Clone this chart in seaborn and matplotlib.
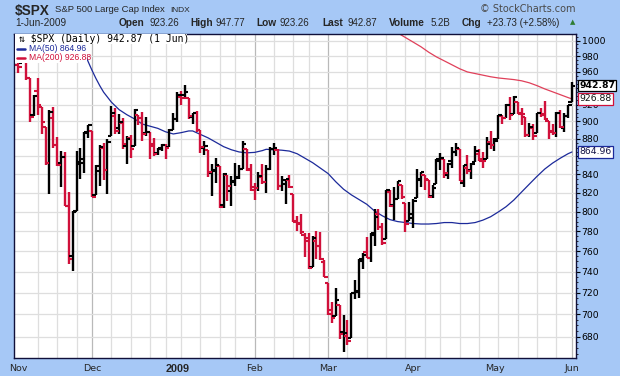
#! /usr/bin/env python3
# -*- coding: utf-8 -*-
import numpy as np
import pandas as pd
import matplotlib
matplotlib.use('Agg')
import matplotlib.pyplot as plt
import matplotlib.ticker as ticker
import matplotlib.transforms as mtransforms
from matplotlib.lines import Line2D
from matplotlib.patches import Rectangle
import seaborn as sns

#========================================================================================
# $SPX daily bars, 3-Nov-2008 .. 1-Jun-2009
opens = [968.67, 971.31, 1001.84, 952.40, 907.44, 936.75, 917.15, 893.39, 853.13, 904.36,
         873.23, 852.34, 859.03, 805.87, 755.84, 801.20, 853.40, 852.90, 886.89, 888.61,
         817.94, 843.60, 869.75, 844.43, 882.71, 906.48, 892.17, 898.35, 871.79, 881.07,
         871.53, 908.16, 904.00, 886.96, 887.20, 874.31, 863.87, 869.51, 872.37, 870.58,
         890.59, 902.99, 929.17, 931.17, 927.45, 905.73, 909.91, 890.40, 869.79, 867.28,
         841.99, 844.45, 849.64, 806.77, 839.74, 822.16, 832.50, 837.30, 845.73, 868.89,
         845.69, 823.09, 825.69, 837.77, 831.75, 846.09, 868.24, 866.87, 827.41, 829.91,
         833.95, 818.61, 791.06, 787.91, 775.87, 773.25, 744.69, 770.64, 765.76, 749.93,
         729.57, 704.44, 698.60, 708.27, 684.04, 680.76, 679.28, 719.59, 720.89, 751.97,
         758.84, 753.88, 776.01, 797.92, 784.58, 772.59, 820.60, 806.81, 814.06, 828.68,
         809.07, 790.88, 793.59, 814.53, 835.13, 839.75, 834.12, 816.76, 829.29, 855.33,
         856.88, 839.44, 854.54, 865.18, 868.27, 831.25, 847.26, 844.62, 853.91, 862.82,
         854.48, 856.85, 876.59, 872.74, 879.21, 906.10, 903.95, 919.58, 909.03, 922.99,
         910.52, 905.40, 884.24, 892.76, 886.07, 909.67, 908.62, 900.42, 888.68, 887.00,
         909.95, 892.96, 907.02, 923.26]
highs = [975.15, 1007.51, 1001.84, 952.40, 931.46, 951.95, 917.15, 893.39, 913.01, 916.88,
         882.29, 865.90, 864.57, 820.52, 801.20, 865.60, 868.94, 887.68, 896.25, 888.61,
         850.54, 873.12, 875.60, 879.42, 918.57, 916.26, 908.27, 904.63, 883.24, 884.63,
         914.66, 908.16, 911.02, 905.47, 887.37, 880.44, 869.79, 873.74, 873.70, 891.12,
         910.32, 934.73, 936.63, 943.85, 927.45, 910.00, 911.93, 890.40, 877.02, 867.28,
         851.59, 858.13, 849.64, 841.72, 839.74, 838.61, 852.53, 850.45, 877.86, 868.89,
         851.66, 830.78, 842.60, 851.85, 850.55, 870.75, 875.01, 868.05, 838.22, 835.48,
         839.43, 818.61, 796.17, 797.58, 778.69, 777.85, 775.49, 780.12, 779.42, 751.27,
         729.57, 711.67, 724.12, 708.27, 699.09, 695.27, 719.60, 731.92, 752.63, 758.29,
         774.53, 778.12, 803.04, 803.24, 788.91, 823.37, 823.65, 826.78, 832.98, 828.68,
         809.07, 810.48, 813.62, 845.61, 842.50, 839.75, 834.12, 828.42, 856.91, 864.31,
         856.88, 852.93, 870.35, 875.63, 868.27, 850.09, 861.78, 852.87, 871.80, 868.83,
         864.48, 882.06, 888.70, 880.48, 907.85, 907.70, 920.28, 929.58, 930.17, 922.99,
         915.57, 905.40, 898.36, 896.97, 910.00, 916.39, 924.60, 900.42, 896.65, 911.76,
         913.84, 909.45, 920.02, 947.77]
lows = [958.57, 971.31, 949.86, 899.73, 906.90, 907.47, 884.90, 850.48, 818.69, 869.88,
        848.98, 826.84, 806.18, 747.78, 741.02, 801.20, 834.99, 841.37, 881.21, 815.69,
        817.94, 827.60, 833.60, 818.41, 882.71, 885.38, 885.45, 868.73, 851.35, 857.72,
        871.53, 895.93, 877.44, 883.02, 857.09, 860.10, 861.44, 866.52, 857.07, 870.58,
        889.67, 899.35, 919.53, 927.28, 902.37, 896.81, 888.31, 864.32, 862.02, 836.93,
        817.04, 830.66, 804.47, 804.30, 811.29, 806.07, 827.69, 835.40, 845.73, 844.15,
        821.67, 812.87, 821.98, 829.18, 819.91, 845.42, 861.65, 822.99, 822.30, 808.06,
        825.21, 789.17, 780.43, 777.03, 754.25, 742.37, 744.69, 752.89, 751.75, 734.52,
        699.70, 692.30, 698.60, 677.93, 666.79, 672.88, 679.28, 713.85, 714.76, 742.46,
        753.37, 749.93, 765.64, 781.82, 766.20, 772.59, 805.48, 791.37, 814.06, 813.43,
        779.81, 790.88, 783.32, 814.53, 826.70, 822.79, 814.53, 814.84, 829.29, 845.35,
        836.31, 835.58, 847.04, 860.87, 832.39, 826.83, 840.57, 835.45, 853.91, 854.65,
        847.12, 856.85, 868.51, 866.10, 879.21, 897.34, 903.95, 901.36, 909.03, 908.68,
        896.46, 882.27, 882.52, 878.94, 886.07, 905.22, 901.37, 879.61, 883.75, 881.46,
        891.87, 887.60, 903.56, 923.26]
closes = [966.30, 1005.75, 952.77, 904.88, 930.99, 919.21, 898.95, 852.30, 911.29, 873.29,
          850.75, 859.12, 806.58, 752.44, 800.03, 851.81, 857.39, 887.68, 896.24, 816.21,
          848.81, 870.74, 845.22, 876.07, 909.70, 888.67, 899.24, 873.59, 879.73, 868.57,
          913.18, 904.42, 885.28, 887.88, 871.63, 863.16, 868.15, 872.80, 869.42, 890.64,
          903.25, 931.80, 927.45, 934.70, 906.65, 909.73, 890.35, 870.26, 871.79, 842.62,
          843.74, 850.12, 805.22, 840.24, 827.50, 831.95, 836.57, 845.71, 874.09, 845.14,
          825.88, 825.44, 838.51, 832.23, 845.85, 868.60, 869.89, 827.16, 833.74, 835.19,
          826.84, 789.17, 788.42, 778.94, 770.05, 743.33, 773.14, 764.90, 752.83, 735.09,
          700.82, 696.33, 712.87, 682.55, 683.38, 676.53, 719.60, 721.36, 750.74, 756.55,
          753.89, 778.12, 794.35, 784.04, 768.54, 822.92, 806.12, 813.88, 832.86, 815.94,
          787.53, 797.87, 811.08, 834.38, 842.50, 835.48, 815.55, 825.16, 856.56, 858.73,
          841.50, 852.06, 865.30, 869.60, 832.39, 850.08, 843.55, 851.92, 866.23, 857.51,
          855.16, 873.64, 872.81, 877.52, 907.24, 903.80, 919.53, 907.39, 929.23, 909.24,
          908.35, 883.92, 893.07, 882.88, 909.71, 908.13, 903.47, 888.33, 887.00, 910.33,
          893.06, 906.83, 919.14, 942.87]
prev_close = 968.75  # 31-Oct-2008

# moving averages (bar number -> value)
ma50_idx = [15, 16, 17, 18, 19, 20, 21, 22, 23, 24, 26, 28, 30, 32, 34, 36, 38, 40, 42, 44,
            45, 47, 49, 51, 53, 55, 57, 59, 61, 63, 64, 66, 68, 70, 72, 74, 76, 78, 80, 82,
            84, 86, 88, 90, 92, 94, 96, 98, 100, 102, 104, 106, 108, 110, 112, 114, 116, 118,
            120, 122, 124, 126, 128, 130, 132, 134, 136, 138, 140, 142, 143]
ma50_val = [1008, 996, 985, 973, 962, 952, 943, 935, 929, 923, 914, 908, 903, 897, 894.5, 892,
            888, 885.5, 887, 889, 889, 885, 881, 876, 871, 867.5, 865, 864, 864.5, 866.5,
            868, 867.5, 867, 866, 863, 858, 853, 847, 841, 832, 824, 818, 813, 808, 801,
            796, 792, 790, 789, 788, 787.5, 787.5, 788, 789, 789, 788, 788, 789, 791.5, 795,
            800, 805.5, 812.5, 821, 829.5, 838, 846, 852.5, 858, 863, 864.96]
ma200_idx = [98, 100, 102, 104, 106, 108, 110, 112, 114, 116, 118, 120, 122, 124, 126, 128,
             130, 132, 134, 136, 138, 140, 142, 143]
ma200_val = [1010, 1004, 998, 992, 985, 979, 974, 969, 964, 960, 958, 956, 954, 952.5, 951.5,
             950.5, 949, 946.5, 943, 939, 935.5, 932, 928.5, 926.88]

y_ticks = list(range(680, 1001, 20))
y_hidden = [940, 860]   # covered by the last-value boxes
month_names = ['Nov', 'Dec', '2009', 'Feb', 'Mar', 'Apr', 'May', 'Jun']
holidays = ['2008-11-27', '2008-12-25', '2009-01-01', '2009-01-19', '2009-02-16',
            '2009-04-10', '2009-05-25']

#========================================================================================
dates = pd.bdate_range('2008-11-03', '2009-06-01')
dates = dates[~dates.isin(pd.to_datetime(holidays))]
df = pd.DataFrame({'date': dates, 'open': opens, 'high': highs, 'low': lows, 'close': closes})
df['i'] = np.arange(len(df))
df['prev'] = df['close'].shift(1).fillna(prev_close)
RED = '#D0103A'
BLUE = '#1C2A9A'
df['color'] = np.where(df['close'] < df['prev'], RED, 'black')

month_start = df.index[df['date'].dt.month != df['date'].shift(1).dt.month].tolist()
wk = df['date'].dt.isocalendar().week
week_start = df.index[wk != wk.shift(1)].tolist()

#========================================================================================
sns.set_style('white')
plt.rcParams['font.family'] = ['Liberation Sans', 'DejaVu Sans']

W, H = 620, 376
BG = '#A6C8F6'
fig = plt.figure(figsize=(W / 100, H / 100), dpi=100, facecolor=BG)
x0, x1, ytop, ybot = 14, 576, 33.5, 358
ax = fig.add_axes([x0 / W, 1 - ybot / H, (x1 - x0) / W, (ybot - ytop) / H])
ax.set_facecolor('white')

def fx(x):
    return x / W

def fy(y):
    return 1 - y / H

# grid
for i in week_start:
    ax.axvline(i, color='#B9B9B9' if i in month_start else '#DEDEDE', lw=0.9, zorder=0)
for v in y_ticks:
    ax.axhline(v, color='#DEDEDE', lw=0.9, zorder=0)

# OHLC bars
ax.vlines(df['i'], df['low'], df['high'], colors=df['color'], lw=1.7, zorder=2)
ax.hlines(df['open'], df['i'] - 0.9, df['i'], colors=df['color'], lw=1.5, zorder=2)
ax.hlines(df['close'], df['i'], df['i'] + 0.9, colors=df['color'], lw=1.5, zorder=2)

# moving averages
sns.lineplot(x=ma50_idx, y=ma50_val, ax=ax, color=BLUE, lw=0.9, zorder=1)
sns.lineplot(x=ma200_idx, y=ma200_val, ax=ax, color='#E0405A', lw=0.9, zorder=1)

ax.set_yscale('log')
ax.set_ylim(661.4, 1009.3)
ax.set_xlim(-1.16, 144.06)
ax.yaxis.tick_right()
ax.yaxis.set_major_locator(ticker.FixedLocator(y_ticks))
ax.yaxis.set_major_formatter(ticker.FixedFormatter(
    ['' if v in y_hidden else str(v) for v in y_ticks]))
ax.yaxis.set_minor_locator(ticker.FixedLocator([v for v in range(665, 1010, 5) if v % 20]))
ax.yaxis.set_minor_formatter(ticker.NullFormatter())
ax.tick_params(axis='y', which='major', direction='out', length=3, width=0.8, pad=1,
               labelsize=7, colors='black')
ax.tick_params(axis='y', which='minor', direction='out', length=1.5, width=0.7)

ax.set_xticks(month_start)
ax.set_xticklabels(month_names)
ax.xaxis.set_minor_locator(ticker.FixedLocator(df['i'].tolist()))
ax.tick_params(axis='x', which='major', direction='out', length=3, width=0.8, pad=1.5,
               labelsize=6.8)
ax.tick_params(axis='x', which='minor', direction='out', length=1.5, width=0.7)
for lab in ax.get_xticklabels():
    lab.set_family('DejaVu Sans')
    if lab.get_text() == '2009':
        lab.set_fontweight('bold')
        lab.set_family('Liberation Sans')
        lab.set_fontsize(7.8)
for lab in ax.get_yticklabels():
    lab.set_family('DejaVu Sans')
    lab.set_fontsize(6.7)
ax.set_xlabel('')
ax.set_ylabel('')
for s in ax.spines.values():
    s.set_color('#10103A')
    s.set_linewidth(1)
    s.set_visible(True)

# value boxes on the right axis
blend = mtransforms.blended_transform_factory(ax.transAxes, ax.transData)
for val, txt, ec, tc, wt in [(942.87, '942.87', 'black', 'black', 'bold'),
                              (926.88, '926.88', RED, '#111111', 'normal'),
                              (864.96, '864.96', BLUE, '#111144', 'normal')]:
    ax.text(1.006, val, txt, transform=blend, ha='left', va='center', fontsize=6.7,
            family='DejaVu Sans', color=tc, fontweight=wt, zorder=5, clip_on=False,
            bbox=dict(boxstyle='square,pad=0.12', fc='white', ec=ec, lw=0.9))

# legend in the top-left corner (white background over the bars)
fig.add_artist(Rectangle((fx(15), fy(43.5)), fx(172), 9.5 / H, fc='white', ec='none', zorder=3))
fig.add_artist(Rectangle((fx(15), fy(63)), fx(72), 19.5 / H, fc='white', ec='none', zorder=3))
fig.text(fx(19), fy(38.5), '\u21c5 $SPX (Daily) 942.87 (1 Jun)', ha='left', va='center',
         fontsize=7, color='black', family='DejaVu Sans Mono', zorder=4)
for txt, col, yy in [('MA(50) 864.96', BLUE, 48.5), ('MA(200) 926.88', RED, 58)]:
    fig.text(fx(29), fy(yy), txt, ha='left', va='center', fontsize=6.2, color=col, zorder=4)
    fig.add_artist(Line2D([fx(17), fx(25)], [fy(yy), fy(yy)], color=col, lw=1.8, zorder=4))

# header
fig.text(fx(15), fy(10.5), '$SPX', fontsize=9.8, fontweight='bold', va='center', ha='left')
fig.text(fx(55), fy(10), 'S&P 500 Large Cap Index', fontsize=6.8, va='center', ha='left')
fig.text(fx(170), fy(10.5), 'INDX', fontsize=6, va='center', ha='left')
fig.text(fx(576), fy(9), '\u00a9 StockCharts.com', fontsize=7, va='center', ha='right',
         color='#4A4A4A', family='DejaVu Sans')
fig.text(fx(15), fy(23), '1-Jun-2009', fontsize=7.2, va='center', ha='left')
row = [(119, 'Open', 'bold'), (149, '923.26', 'normal'), (190, 'High', 'bold'),
       (216, '947.77', 'normal'), (256, 'Low', 'bold'), (280, '923.26', 'normal'),
       (322, 'Last', 'bold'), (348, '942.87', 'normal'), (389, 'Volume', 'bold'),
       (431, '5.2B', 'normal'), (462, 'Chg', 'bold'), (487, '+23.73 (+2.58%)', 'normal')]
for xx, txt, wt in row:
    fig.text(fx(xx), fy(23), txt, fontsize=7.3 if wt == 'bold' else 7, fontweight=wt,
             va='center', ha='left')
fig.text(fx(573), fy(22.5), '\u25b2', fontsize=5, color='#2E7D32', va='center',
         ha='center', family='DejaVu Sans')

fig.savefig('out.png', dpi=100, facecolor=BG)
